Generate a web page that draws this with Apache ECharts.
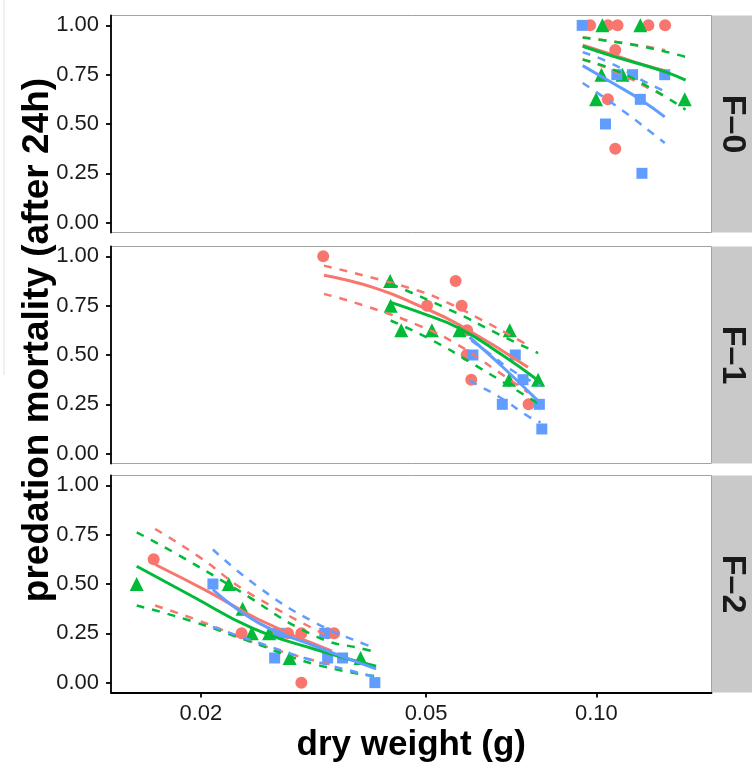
<!DOCTYPE html>
<html><head><meta charset="utf-8">
<script src="https://cdn.jsdelivr.net/npm/echarts@6/dist/echarts.min.js"></script>
<style>html,body{margin:0;padding:0;background:#fff}#c{width:752px;height:769px}</style>
</head><body><div id="c"></div>
<script>
// ---- axis ticks / labels ----
const xTicks = [0.02, 0.05, 0.1];
const xTickLabels = ['0.02', '0.05', '0.10'];
const yTicks = [0, 0.25, 0.5, 0.75, 1];
const yTickLabels = ['0.00', '0.25', '0.50', '0.75', '1.00'];
const panelNames = ['F\u20130', 'F\u20131', 'F\u20132'];
const xTitle = 'dry weight (g)';
const yTitle = 'predation mortality (after 24h)';

// ---- observed points: [dry weight, mortality] ----
const f0Red = [[0.0975,1],[0.1048,1],[0.109,1],[0.1236,1],[0.1323,1],[0.108,0.875],[0.1048,0.625],[0.108,0.375]];
const f0Green = [[0.1025,1],[0.1196,1],[0.1021,0.75],[0.1112,0.75],[0.0999,0.625],[0.1433,0.625]];
const f0Blue = [[0.0944,1],[0.1087,0.75],[0.1159,0.75],[0.1321,0.75],[0.1196,0.625],[0.1038,0.5],[0.1204,0.25]];

const f1Red = [[0.0329,1],[0.0564,0.875],[0.0502,0.75],[0.0578,0.75],[0.0591,0.625],[0.059,0.5],[0.0601,0.375],[0.0759,0.25]];
const f1Green = [[0.0432,0.875],[0.0433,0.75],[0.0452,0.625],[0.0512,0.625],[0.0573,0.625],[0.0703,0.625],[0.0701,0.375],[0.0789,0.375]];
const f1Blue = [[0.0719,0.5],[0.0605,0.5],[0.0742,0.375],[0.0682,0.25],[0.0793,0.25],[0.0801,0.125]];

const f2Red = [[0.0165,0.625],[0.0236,0.25],[0.0271,0.25],[0.0285,0.25],[0.0301,0.25],[0.0335,0.25],[0.0344,0.25],[0.0301,0]];
const f2Green = [[0.0154,0.5],[0.0224,0.5],[0.0237,0.375],[0.0246,0.25],[0.0264,0.25],[0.0287,0.125],[0.0383,0.125]];
const f2Blue = [[0.021,0.5],[0.0275,0.25],[0.0331,0.25],[0.027,0.125],[0.0335,0.125],[0.0356,0.125],[0.0406,0]];

// ---- fitted curves and confidence bands ----
const f0RedFit = [[0.0946,0.90],[0.1072,0.85],[0.118,0.81],[0.1323,0.77]];
const f0RedHi = [[0.0946,0.94],[0.118,0.90],[0.1323,0.874]];
const f0RedLo = [[0.0946,0.827],[0.1072,0.77],[0.1281,0.66],[0.1323,0.64]];
const f0GreenFit = [[0.0946,0.894],[0.1072,0.843],[0.1316,0.767],[0.1438,0.722]];
const f0GreenHi = [[0.0946,0.937],[0.118,0.898],[0.1438,0.84]];
const f0GreenLo = [[0.0946,0.827],[0.1072,0.776],[0.1246,0.683],[0.1438,0.573]];
const f0BlueFit = [[0.0946,0.796],[0.1072,0.705],[0.1196,0.624],[0.1321,0.536]];
const f0BlueHi = [[0.0946,0.864],[0.1058,0.81],[0.1229,0.709],[0.1321,0.666]];
const f0BlueLo = [[0.0946,0.708],[0.1117,0.565],[0.1298,0.421],[0.1321,0.404]];

const f1RedFit = [[0.033,0.904],[0.0408,0.838],[0.049,0.745],[0.0573,0.652],[0.0757,0.438]];
const f1RedHi = [[0.033,0.953],[0.0399,0.894],[0.0483,0.827],[0.0528,0.785],[0.0622,0.683],[0.0732,0.573],[0.0757,0.548]];
const f1RedLo = [[0.033,0.81],[0.0397,0.742],[0.0486,0.649],[0.0565,0.557],[0.0666,0.421],[0.0757,0.31]];
const f1GreenFit = [[0.0433,0.767],[0.0486,0.717],[0.0573,0.635],[0.0684,0.497],[0.0789,0.371]];
const f1GreenHi = [[0.0433,0.861],[0.0567,0.712],[0.067,0.607],[0.0789,0.51]];
const f1GreenLo = [[0.0433,0.675],[0.0514,0.573],[0.0605,0.455],[0.0789,0.255]];
const f1BlueFit = [[0.0597,0.59],[0.0684,0.438],[0.0797,0.255]];
const f1BlueHi = [[0.0601,0.573],[0.0648,0.506],[0.0703,0.43],[0.0773,0.362],[0.0797,0.345]];
const f1BlueLo = [[0.0597,0.37],[0.0613,0.352],[0.0675,0.286],[0.0763,0.184],[0.0797,0.159]];

const f2RedFit = [[0.0166,0.599],[0.0208,0.455],[0.0253,0.32],[0.0341,0.159]];
const f2RedHi = [[0.0166,0.779],[0.0198,0.64],[0.0243,0.455],[0.0341,0.227]];
const f2RedLo = [[0.0166,0.391],[0.0198,0.315],[0.0256,0.19],[0.0341,0.09]];
const f2GreenFit = [[0.0154,0.59],[0.0193,0.438],[0.0246,0.278],[0.0319,0.168],[0.0408,0.083]];
const f2GreenHi = [[0.0154,0.762],[0.0182,0.649],[0.0229,0.48],[0.0319,0.235],[0.0391,0.168],[0.0408,0.155]];
const f2GreenLo = [[0.0154,0.391],[0.0193,0.311],[0.0246,0.205],[0.0319,0.092],[0.0408,0.032]];
const f2BlueFit = [[0.021,0.472],[0.0253,0.303],[0.0319,0.184],[0.0408,0.07]];
const f2BlueHi = [[0.021,0.675],[0.0254,0.48],[0.0319,0.303],[0.0391,0.193],[0.0406,0.18]];
const f2BlueLo = [[0.021,0.283],[0.0253,0.202],[0.0319,0.108],[0.0402,0.032],[0.0408,0.025]];

// ---- assemble ----
const panelsData = [
  {red:[f0Red,f0RedFit,f0RedLo,f0RedHi], green:[f0Green,f0GreenFit,f0GreenLo,f0GreenHi], blue:[f0Blue,f0BlueFit,f0BlueLo,f0BlueHi]},
  {red:[f1Red,f1RedFit,f1RedLo,f1RedHi], green:[f1Green,f1GreenFit,f1GreenLo,f1GreenHi], blue:[f1Blue,f1BlueFit,f1BlueLo,f1BlueHi]},
  {red:[f2Red,f2RedFit,f2RedLo,f2RedHi], green:[f2Green,f2GreenFit,f2GreenLo,f2GreenHi], blue:[f2Blue,f2BlueFit,f2BlueLo,f2BlueHi]}
];
const groups = ['red','green','blue'];
const colors = {red:'#F8766D', green:'#00BA38', blue:'#619CFF'};
const symbols = {red:'circle', green:'triangle', blue:'rect'};
const symSizes = {red:12, green:14, blue:11};
const FONT = "'Liberation Sans', Arial, sans-serif";
const tops = [15.5, 246.5, 475.5];
const H = 217, L = 111, W = 600.5;

const grid = tops.map(t => ({left:L, top:t, width:W, height:H, show:true, borderColor:'#a3a3a3', borderWidth:1, backgroundColor:'#fff'}));

function lbl(ticks, labels){ return v => { const i = ticks.findIndex(t => Math.abs(t - v) < 1e-9); return i >= 0 ? labels[i] : ''; }; }

const xAxis = tops.map((t,i) => ({
  gridIndex:i, type:'log', logBase:10, min:0.01387, max:0.1598, show: i === 2,
  axisLine:{show:true, onZero:false, lineStyle:{color:'#000', width:1.8}},
  axisTick:{show:true, length:5, customValues:xTicks, lineStyle:{color:'#000', width:1.8}},
  axisLabel:{customValues:xTicks, formatter:lbl(xTicks,xTickLabels), fontSize:22, color:'#1a1a1a', margin:10, fontFamily:FONT},
  splitLine:{show:false}, minorTick:{show:false}
}));
const yAxis = tops.map((t,i) => ({
  gridIndex:i, type:'value', min:-0.05, max:1.05,
  axisLine:{show:true, onZero:false, lineStyle:{color:'#000', width:1.8}},
  axisTick:{show:true, length:5, customValues:yTicks, lineStyle:{color:'#000', width:1.8}},
  axisLabel:{customValues:yTicks, formatter:lbl(yTicks,yTickLabels), fontSize:22, color:'#1a1a1a', margin:12, fontFamily:FONT},
  splitLine:{show:false}
}));

const series = [];
panelsData.forEach((pd, p) => {
  groups.forEach(g => {
    series.push({type:'scatter', xAxisIndex:p, yAxisIndex:p, data:pd[g][0], symbol:symbols[g], symbolSize:symSizes[g],
      itemStyle:{color:colors[g], opacity:1}, z:2, silent:true});
  });
  groups.forEach(g => {
    series.push({type:'line', xAxisIndex:p, yAxisIndex:p, data:pd[g][1], showSymbol:false, smooth:0.5,
      lineStyle:{color:colors[g], width:3}, z:3, silent:true});
    [pd[g][2], pd[g][3]].forEach(d => series.push({type:'line', xAxisIndex:p, yAxisIndex:p, data:d, showSymbol:false, smooth:0.5,
      lineStyle:{color:colors[g], width:2.5, type:[8,8]}, z:3, silent:true}));
  });
});

const graphic = [];
tops.forEach((t,i) => {
  graphic.push({type:'rect', shape:{x:L+W+0.5, y:t, width:752-(L+W+0.5), height:H}, style:{fill:'#c9c9c9'}, silent:true, z:-1});
  graphic.push({type:'text', x:L+W+21, y:t+H/2, rotation:-Math.PI/2,
    style:{text:panelNames[i], fontSize:34, fontWeight:'bold', fontFamily:FONT, fill:'#1a1a1a', align:'center', verticalAlign:'middle'}, silent:true});
});
graphic.push({type:'text', x:38, y:340, rotation:Math.PI/2,
  style:{text:yTitle, fontSize:37, fontWeight:'bold', fontFamily:FONT, fill:'#000', align:'center', verticalAlign:'middle'}, silent:true});
graphic.push({type:'text', x:L+W/2, y:745,
  style:{text:xTitle, fontSize:35, fontWeight:'bold', fontFamily:FONT, fill:'#000', align:'center', verticalAlign:'middle'}, silent:true});
graphic.push({type:'line', shape:{x1:4, y1:0, x2:4, y2:375}, style:{stroke:'#e2e2e2', lineWidth:1}, silent:true});

const chart = echarts.init(document.getElementById('c'), null, {renderer:'canvas'});
chart.setOption({animation:false, backgroundColor:'#fff', grid, xAxis, yAxis, series, graphic});
</script></body></html>
